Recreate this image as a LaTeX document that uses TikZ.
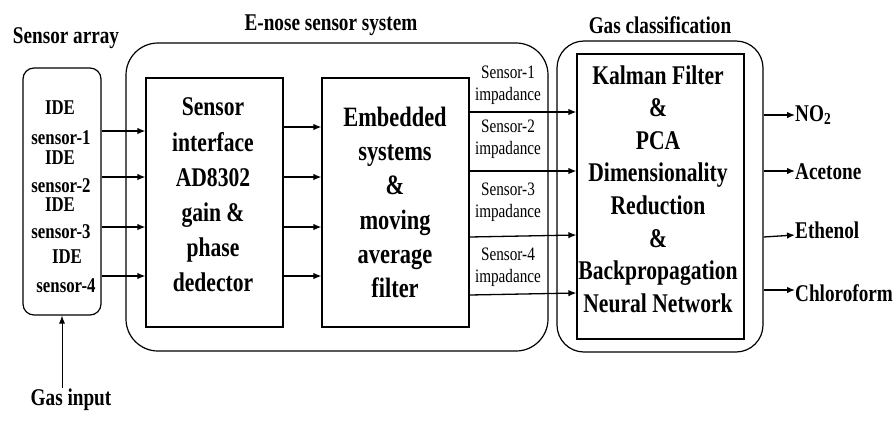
\documentclass[tikz,border=0pt]{standalone}
\usepackage{fontspec}
\setmainfont{Liberation Serif}[FakeStretch=0.8]
\usetikzlibrary{arrows.meta}
\begin{document}
\begin{tikzpicture}[x=1pt,y=-1pt,
  box/.style={draw, line width=1.2pt, inner sep=0pt},
  arr/.style={-{Latex[length=8pt,width=6.5pt]}, line width=1.3pt},
  thinarr/.style={-{Latex[length=8pt,width=6pt]}, line width=0.8pt},
  ttl/.style={font=\fontsize{24}{28}\selectfont\bfseries, inner sep=0pt},
  sens/.style={font=\fontsize{21}{24}\selectfont\bfseries, inner sep=0pt},
  imp/.style={font=\fontsize{19}{22}\selectfont, align=center, inner sep=0pt},
  outl/.style={font=\fontsize{24}{28}\selectfont\bfseries, inner sep=0pt, anchor=west}]
\useasboundingbox (0,0) rectangle (896,432);
% titles
\node[ttl] (t1) at (66,38) {Sensor array};
\node[ttl] (t2) at (331,25) {E-nose sensor system};
\node[ttl] (t3) at (660,25) {Gas classification};
\node[ttl] (gin) at (71,400) {Gas input};
% boxes
\node[box, rounded corners=11pt, minimum width=78pt, minimum height=247pt] (sa) at (62,191.5) {};
\node[box, rounded corners=32pt, minimum width=422pt, minimum height=308pt] (enose) at (337,197) {};
\node[box, minimum width=137pt, minimum height=249pt] (sif) at (214.5,202.5) {};
\node[box, minimum width=147pt, minimum height=249pt] (emb) at (395.5,202.5) {};
\node[box, rounded corners=27pt, minimum width=206pt, minimum height=311pt] (gc) at (660,196.5) {};
\node[box, minimum width=167pt, minimum height=285pt] (kf) at (660.5,196.5) {};
% sensor array texts
\node[sens] (i1) at (60,108) {IDE};
\node[sens] (s1) at (61,137.5) {sensor-1};
\node[sens] (i2) at (60,157.5) {IDE};
\node[sens] (s2) at (61,185.5) {sensor-2};
\node[sens] (i3) at (60,205) {IDE};
\node[sens] (s3) at (61,232) {sensor-3};
\node[sens] (i4) at (67,257) {IDE};
\node[sens] (s4) at (66,286) {sensor-4};
% box texts
\node[align=center, inner sep=0pt, font=\fontsize{27}{35.2}\selectfont\bfseries] (sift) at (213,195)
  {Sensor\\interface\\AD8302\\gain \&\\phase\\dedector};
\node[align=center, inner sep=0pt, font=\fontsize{28}{34.2}\selectfont\bfseries] (embt) at (395,202.5)
  {Embedded\\systems\\\&\\moving\\average\\filter};
\node[align=center, inner sep=0pt, font=\fontsize{27}{32.6}\selectfont\bfseries] (kft) at (658,189)
  {Kalman Filter\\\&\\PCA\\Dimensionality\\Reduction\\\&\\Backpropagation\\Neural Network};
% impedance labels
\node[imp] (l1) at (508,85.5) {Sensor-1\\impadance};
\node[imp] (l2) at (508,139) {Sensor-2\\impadance};
\node[imp] (l3) at (508,202) {Sensor-3\\impadance};
\node[imp] (l4) at (508,267.5) {Sensor-4\\impadance};
% output labels
\node[outl] (o1) at (795,115) {NO\textsubscript{2}};
\node[outl] (o2) at (795,172) {Acetone};
\node[outl] (o3) at (795,230) {Ethenol};
\node[outl] (o4) at (795,293) {Chloroform};
% row coordinates
\coordinate (a1) at (0,131); \coordinate (a2) at (0,177);
\coordinate (a3) at (0,227); \coordinate (a4) at (0,276);
\coordinate (b1) at (0,127); \coordinate (b2) at (0,177);
\coordinate (b3) at (0,227); \coordinate (b4) at (0,276);
\coordinate (c1) at (0,112); \coordinate (c2) at (0,171);
\coordinate (c3s) at (0,237); \coordinate (c3e) at (0,235);
\coordinate (c4s) at (0,295); \coordinate (c4e) at (0,293);
\coordinate (d1) at (0,115); \coordinate (d2) at (0,171);
\coordinate (d3s) at (0,237); \coordinate (d3e) at (0,235);
\coordinate (d4) at (0,290);
\coordinate (ga) at (62,388);
% connectors
\foreach \r in {a1,a2,a3,a4} \draw[arr] (sa.east |- \r) -- (sif.west |- \r);
\foreach \r in {b1,b2,b3,b4} \draw[arr] (sif.east |- \r) -- (emb.west |- \r);
\draw[arr] (emb.east |- c1) -- (kf.west |- c1);
\draw[arr] (emb.east |- c2) -- (kf.west |- c2);
\draw[arr] (emb.east |- c3s) -- (kf.west |- c3e);
\draw[arr] (emb.east |- c4s) -- (kf.west |- c4e);
\draw[arr] (gc.east |- d1) -- (o1.west |- d1);
\draw[arr] (gc.east |- d2) -- (o2.west |- d2);
\draw[arr] (gc.east |- d3s) -- (o3.west |- d3e);
\draw[arr] (gc.east |- d4) -- (o4.west |- d4);
\draw[thinarr] (ga) -- (ga |- sa.south);
\end{tikzpicture}
\end{document}
